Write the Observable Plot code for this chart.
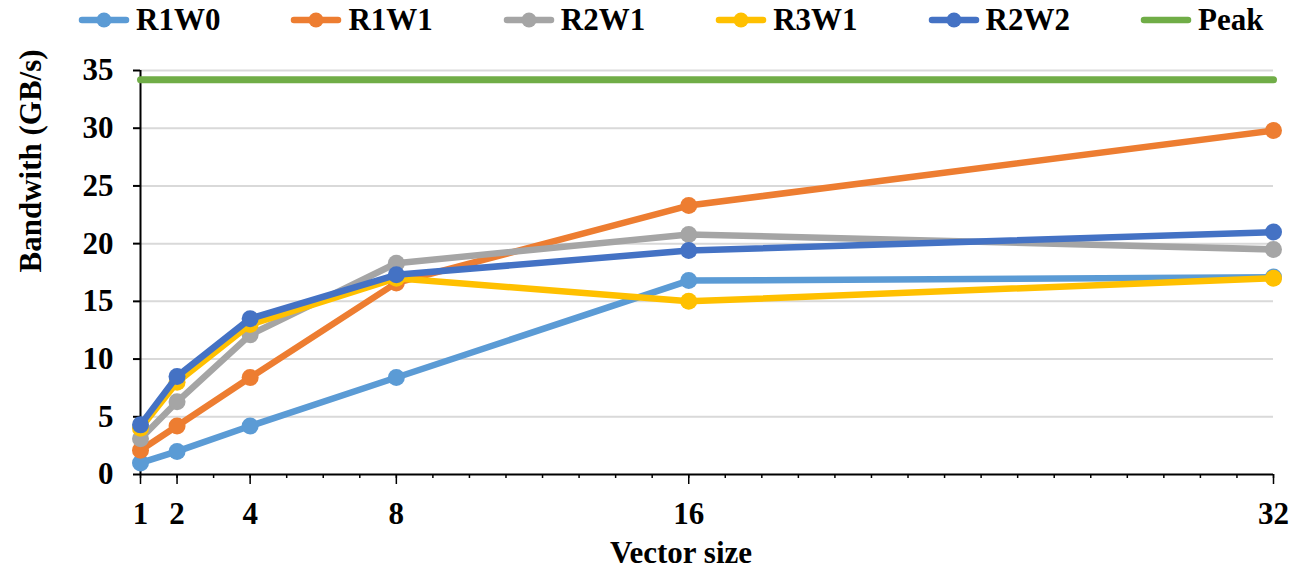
<!DOCTYPE html>
<html><head><meta charset="utf-8">
<script src="https://cdn.jsdelivr.net/npm/d3@7"></script>
<script src="https://cdn.jsdelivr.net/npm/@observablehq/plot@0.6"></script>
<style>
body{margin:0;background:#fff;font-family:"Liberation Serif","Times New Roman",Times,serif;}
#legend{position:relative;height:40px;width:1294px;}
.item{position:absolute;top:0;height:40px;display:flex;align-items:center;font-weight:bold;font-size:31px;color:#000;}
.item svg{margin-right:6px;}
</style></head><body>
<div id="legend"></div><div id="chart"></div>
<script>
const sizes = [1, 2, 4, 8, 16, 32];
const seriesNames = ["R1W0", "R1W1", "R2W1", "R3W1", "R2W2"];
const r1w0 = [1.0, 2.0, 4.2, 8.4, 16.8, 17.1];
const r1w1 = [2.1, 4.2, 8.4, 16.6, 23.3, 29.8];
const r2w1 = [3.1, 6.3, 12.1, 18.3, 20.8, 19.5];
const r3w1 = [4.0, 8.0, 13.0, 17.0, 15.0, 17.0];
const r2w2 = [4.3, 8.5, 13.5, 17.3, 19.4, 21.0];
const peakValue = 34.2;
const yTicks = [0, 5, 10, 15, 20, 25, 30, 35];
const colors = ["#5B9BD5", "#ED7D31", "#A5A5A5", "#FFC000", "#4472C4"];
const peakColor = "#70AD47";
const values = [r1w0, r1w1, r2w1, r3w1, r2w2];

// legend
const legend = document.getElementById("legend");
const legendNames = [...seriesNames, "Peak"];
const legendColors = [...colors, peakColor];
legendNames.forEach((name, i) => {
  const d = document.createElement("div");
  d.className = "item";
  d.style.left = (78 + i * 212.4) + "px";
  const marker = i < seriesNames.length ? `<circle cx="26" cy="20" r="7.5" fill="${legendColors[i]}"/>` : "";
  d.innerHTML = `<svg width="52" height="40"><line x1="4" x2="48" y1="20" y2="20" stroke="${legendColors[i]}" stroke-width="6.5" stroke-linecap="round"/>${marker}</svg><span>${name}</span>`;
  legend.appendChild(d);
});

const font = {fontFamily: "'Liberation Serif','Times New Roman',Times,serif", fontWeight: "bold", fontSize: 31, fill: "#000"};
const marks = [];
marks.push(Plot.gridY(yTicks.filter(v => v > 0), {stroke: "#d9d9d9", strokeOpacity: 1, strokeWidth: 2}));
marks.push(Plot.axisY(yTicks, {tickSize: 7, tickPadding: 20, stroke: "#000", strokeWidth: 2, ...font, label: null}));
marks.push(Plot.axisX(d3.range(1, 33), {tickSize: 4, stroke: "#000", strokeWidth: 1.5, text: null, label: null}));
marks.push(Plot.axisX(sizes, {tickSize: 10, tickPadding: 17, stroke: "#000", strokeWidth: 1.5, ...font, label: null}));
marks.push(Plot.ruleX([sizes[0]], {y1: 0, y2: yTicks[yTicks.length - 1], stroke: "#000", strokeWidth: 2}));
marks.push(Plot.ruleY([0], {stroke: "#000", strokeWidth: 2}));
values.forEach((vals, i) => {
  const data = sizes.map((s, j) => ({x: s, y: vals[j]}));
  marks.push(Plot.line(data, {x: "x", y: "y", stroke: colors[i], strokeWidth: 6.5, strokeLinejoin: "round"}));
  marks.push(Plot.dot(data, {x: "x", y: "y", r: 8.5, fill: colors[i]}));
});
marks.push(Plot.line([{x: sizes[0], y: peakValue}, {x: sizes[sizes.length - 1], y: peakValue}], {x: "x", y: "y", stroke: peakColor, strokeWidth: 7}));
marks.push(Plot.text(["Vector size"], {frameAnchor: "bottom", dy: 79, dx: -26, lineAnchor: "middle", ...font}));
marks.push(Plot.text(["Bandwith (GB/s)"], {frameAnchor: "left", dx: -109, rotate: -90, lineAnchor: "middle", ...font}));

const chart = Plot.plot({
  width: 1294,
  height: 530,
  marginTop: 30,
  marginBottom: 96,
  marginLeft: 140,
  marginRight: 21,
  x: {type: "linear", domain: [sizes[0], sizes[sizes.length - 1]]},
  y: {domain: [0, 35]},
  style: {fontFamily: "'Liberation Serif','Times New Roman',Times,serif", background: "#fff", overflow: "visible"},
  marks
});
document.getElementById("chart").appendChild(chart);
</script>
</body></html>
